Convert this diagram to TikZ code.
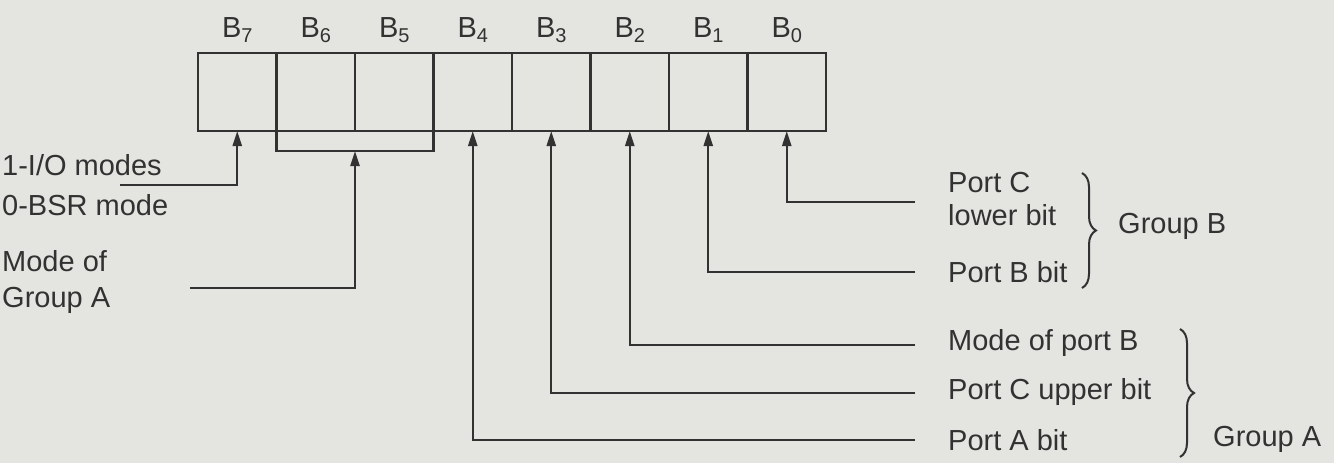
\documentclass[tikz,border=0pt]{standalone}
\usepackage{fontspec}
\setmainfont{Liberation Sans}
\usetikzlibrary{arrows.meta,decorations.pathreplacing,calc}
\definecolor{bg}{RGB}{228,228,225}
\definecolor{ink}{RGB}{50,50,50}
\newcommand{\bsub}[1]{\raisebox{-0.3ex}{\fontsize{20}{24}\selectfont #1}}
\begin{document}
\begin{tikzpicture}[x=1pt,y=-1pt,
 cell/.style={draw=ink,line width=2.2pt,minimum width=78.5pt,minimum height=78pt,inner sep=0pt,outer sep=0pt},
 lbl/.style={text=ink,font=\fontsize{29}{33}\selectfont,inner sep=0pt,anchor=west},
 blbl/.style={text=ink,font=\fontsize{29}{33}\selectfont,inner sep=0pt},
 conn/.style={draw=ink,line width=2.2pt},
 arr/.style={conn,-{Triangle[length=15pt,width=9pt]}},
 brc/.style={draw=ink,line width=2pt,decorate,decoration={brace,amplitude=14pt}}]
\fill[bg] (0,0) rectangle (1334,463);
\useasboundingbox (0,0) rectangle (1334,463);
% register cells
\foreach \i in {7,...,0}{
  \pgfmathsetmacro{\cx}{198+78.5*(7-\i)+39.25}
  \node[cell] (c\i) at (\cx,92) {};
  \node[blbl] (b\i) at (\cx,30) {B\bsub{\i}};
}
% B7
\node[lbl] (io) at (2,165) {1-I/O modes};
\node[lbl] (bsr) at (2,205) {0-BSR mode};
\coordinate (s7) at (120,185);
\draw[arr] (s7) -| (c7.south);
% B6 B5 bracket
\coordinate (k1) at ($(c6.south west)+(0,20)$);
\coordinate (k2) at ($(c5.south east)+(0,20)$);
\draw[conn] (c6.south west) -- (k1) -- (k2) -- (c5.south east);
\coordinate (km) at (c6.south east |- k1);
\node[lbl,align=left] (mg) at (2,282) {Mode of\\[3pt]Group A};
\coordinate (s56) at (190,288);
\draw[arr] (s56) -| (km);
% right labels
\node[lbl,align=left] (pc) at (948,199) {Port C\\lower bit};
\node[lbl] (pb) at (948,272) {Port B bit};
\node[lbl] (mpb) at (948,343) {Mode of port B};
\node[lbl] (pcu) at (948,392) {Port C upper bit};
\node[lbl] (pa) at (948,440) {Port A bit};
\coordinate (e0) at (915,202);
\coordinate (e1) at (915,272);
\coordinate (e2) at (915,345);
\coordinate (e3) at (915,393);
\coordinate (e4) at (915,440);
\draw[arr] (e0) -| (c0.south);
\draw[arr] (e1) -| (c1.south);
\draw[arr] (e2) -| (c2.south);
\draw[arr] (e3) -| (c3.south);
\draw[arr] (e4) -| (c4.south);
% braces
\coordinate (gbt) at (1082,173);
\coordinate (gbb) at (1082,288);
\draw[brc] (gbt) -- (gbb);
\node[lbl] (gb) at (1118,226) {Group B};
\coordinate (gat) at (1180,329);
\coordinate (gab) at (1180,457);
\draw[brc] (gat) -- (gab);
\node[lbl] (ga) at (1213,439) {Group A};
\end{tikzpicture}
\end{document}
